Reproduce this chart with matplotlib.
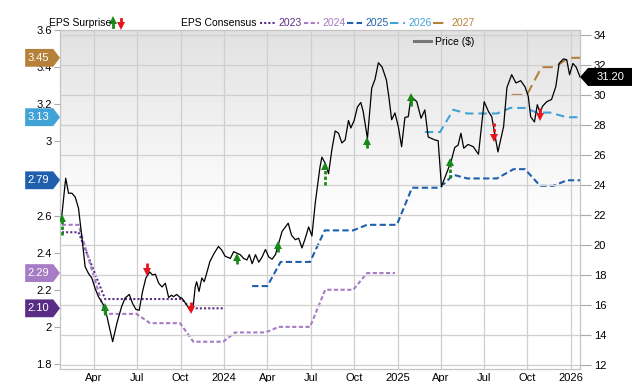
import matplotlib
matplotlib.use("Agg")
import matplotlib.pyplot as plt
import matplotlib.dates as mdates
from matplotlib.patches import Polygon
from matplotlib.lines import Line2D
import numpy as np
import pandas as pd

plt.rcParams['font.family'] = ['Liberation Sans', 'DejaVu Sans']

# ---------------------------------------------------------------------------
# Data
# ---------------------------------------------------------------------------
price_dates = [
    "2023-01-24", "2023-02-01", "2023-02-07", "2023-02-14", "2023-02-21", "2023-02-28",
    "2023-03-07", "2023-03-14", "2023-03-21", "2023-03-28", "2023-04-04", "2023-04-11",
    "2023-04-18", "2023-04-25", "2023-05-02", "2023-05-11", "2023-05-20", "2023-05-30",
    "2023-06-06", "2023-06-15", "2023-06-22", "2023-06-29", "2023-07-06", "2023-07-13",
    "2023-07-20", "2023-07-28", "2023-08-03", "2023-08-09", "2023-08-16", "2023-08-23",
    "2023-08-30", "2023-09-06", "2023-09-12", "2023-09-16", "2023-09-23", "2023-09-30",
    "2023-10-04", "2023-10-14", "2023-10-21", "2023-10-28", "2023-11-01", "2023-11-04",
    "2023-11-09", "2023-11-15", "2023-11-20", "2023-11-25", "2023-12-02", "2023-12-11",
    "2023-12-20", "2023-12-27", "2024-01-03", "2024-01-14", "2024-01-21", "2024-01-28",
    "2024-02-04", "2024-02-11", "2024-02-18", "2024-02-23", "2024-02-29", "2024-03-07",
    "2024-03-14", "2024-03-21", "2024-03-28", "2024-04-04", "2024-04-11", "2024-04-18",
    "2024-04-24", "2024-05-02", "2024-05-15", "2024-05-22", "2024-05-30", "2024-06-06",
    "2024-06-13", "2024-06-20", "2024-06-27", "2024-07-04", "2024-07-11", "2024-07-21",
    "2024-07-25", "2024-08-01", "2024-08-08", "2024-08-15", "2024-08-22", "2024-08-29",
    "2024-09-05", "2024-09-12", "2024-09-19", "2024-09-24", "2024-10-01", "2024-10-08",
    "2024-10-15", "2024-10-20", "2024-10-29", "2024-11-07", "2024-11-14", "2024-11-21",
    "2024-11-29", "2024-12-08", "2024-12-13", "2024-12-19", "2024-12-26", "2025-01-02",
    "2025-01-09", "2025-01-16", "2025-01-23", "2025-01-29", "2025-02-10", "2025-02-19",
    "2025-02-27", "2025-03-06", "2025-03-13", "2025-03-20", "2025-03-27", "2025-04-03",
    "2025-04-14", "2025-04-24", "2025-05-01", "2025-05-08", "2025-05-14", "2025-05-20",
    "2025-05-29", "2025-06-09", "2025-06-20", "2025-07-02", "2025-07-11", "2025-07-18",
    "2025-07-31", "2025-08-12", "2025-08-19", "2025-08-29", "2025-09-07", "2025-09-17",
    "2025-09-26", "2025-10-03", "2025-10-08", "2025-10-16", "2025-10-22", "2025-10-28",
    "2025-11-02", "2025-11-11", "2025-11-21", "2025-11-30", "2025-12-07", "2025-12-16",
    "2025-12-23", "2025-12-29", "2026-01-05", "2026-01-12", "2026-01-20",
]
price_vals = [
    22.0, 24.45, 23.45, 23.45, 23.2, 22.45,
    20.55, 18.55, 18.1, 17.8, 17.1, 16.55,
    16.2, 15.8, 14.8, 13.55, 14.8, 15.9,
    16.45, 16.7, 16.1, 15.7, 15.65, 16.9,
    17.8, 18.2, 18.0, 18.05, 17.45, 17.2,
    17.45, 16.5, 16.65, 16.55, 16.7, 16.5,
    16.45, 16.0, 15.65, 16.0, 17.2, 17.55,
    16.9, 17.8, 17.55, 18.1, 18.9, 19.45,
    19.9, 19.65, 19.25, 19.1, 19.55, 19.45,
    19.35, 19.1, 19.0, 19.35, 18.75, 19.35,
    18.85, 19.2, 19.7, 19.2, 19.05, 19.35,
    20.0, 20.9, 21.45, 20.65, 20.35, 20.45,
    19.8, 20.45, 21.2, 20.6, 22.8, 25.2,
    25.85, 25.45, 24.75, 26.35, 27.6, 27.45,
    26.8, 27.0, 28.3, 27.8, 28.3, 29.2,
    29.5, 28.9, 27.1, 30.45, 31.05, 32.15,
    31.85, 31.0, 29.9, 28.35, 28.8, 27.9,
    26.55, 28.5, 28.55, 29.9, 29.55, 28.45,
    29.0, 27.2, 27.1, 27.0, 26.95, 23.9,
    24.8, 25.65, 26.5, 26.65, 27.45, 26.45,
    26.7, 26.55, 26.05, 29.55, 28.9, 28.55,
    26.2, 27.9, 30.5, 31.35, 30.8, 30.95,
    30.55, 29.9, 28.55, 28.2, 29.35, 28.8,
    29.25, 29.55, 29.7, 30.55, 32.1, 32.4,
    32.35, 31.35, 32.1, 31.85, 31.2,
]

# EPS consensus per fiscal year
eps23_dates = ["2023-01-24", "2023-02-28", "2023-03-28", "2023-04-25", "2023-10-04",
               "2023-10-21", "2023-12-30"]
eps23_vals = [2.51, 2.51, 2.33, 2.15, 2.15, 2.10, 2.10]

eps24_dates = ["2023-01-24", "2023-02-28", "2023-03-28", "2023-04-25", "2023-06-30",
               "2023-07-29", "2023-09-30", "2023-10-28", "2023-12-30", "2024-01-24",
               "2024-03-28", "2024-04-25", "2024-06-30", "2024-08-01", "2024-09-29",
               "2024-10-28", "2024-12-26"]
eps24_vals = [2.55, 2.55, 2.31, 2.07, 2.07, 2.02, 2.02, 1.92, 1.92, 1.97,
              1.97, 2.00, 2.00, 2.20, 2.20, 2.29, 2.29]

eps25_dates = ["2024-02-29", "2024-04-01", "2024-04-29", "2024-06-30", "2024-07-31",
               "2024-09-29", "2024-10-28", "2024-12-30", "2025-01-31", "2025-03-31",
               "2025-04-28", "2025-05-27", "2025-07-29", "2025-09-02", "2025-09-26",
               "2025-10-28", "2025-11-25", "2025-12-23", "2026-01-20"]
eps25_vals = [2.22, 2.22, 2.35, 2.35, 2.52, 2.52, 2.55, 2.55, 2.75, 2.75,
              2.82, 2.80, 2.80, 2.85, 2.85, 2.76, 2.76, 2.79, 2.79]

eps26_dates = ["2025-02-27", "2025-03-31", "2025-04-28", "2025-05-27", "2025-07-29",
               "2025-08-26", "2025-09-26", "2025-10-21", "2025-11-18", "2025-12-23",
               "2026-01-20"]
eps26_vals = [3.05, 3.05, 3.17, 3.15, 3.15, 3.18, 3.18, 3.155, 3.155, 3.13, 3.13]

eps27_dates = ["2025-08-29", "2025-09-30", "2025-10-31", "2025-11-28", "2025-12-27",
               "2026-01-20"]
eps27_vals = [3.25, 3.25, 3.40, 3.40, 3.45, 3.45]

# EPS surprise markers: date, stem start, arrow tip (price-axis level)
surprise_dates = ["2023-01-24", "2023-04-25", "2023-07-23", "2023-10-23", "2024-01-29",
                  "2024-04-23", "2024-07-31", "2024-10-29", "2025-01-28", "2025-04-21",
                  "2025-07-23", "2025-10-28"]
surprise_base = [20.67, 15.33, 18.8, 16.2, 18.73, 19.53, 24.0, 26.47, 29.27, 24.47, 28.15, 29.13]
surprise_tip = [21.8, 15.87, 18.2, 15.67, 19.22, 20.0, 25.27, 26.95, 29.85, 25.55, 27.1, 28.53]

eps_ticks = [1.8, 2.0, 2.2, 2.4, 2.6, 2.8, 3.0, 3.2, 3.4, 3.6]
years = ["2023", "2024", "2025", "2026", "2027"]
year_colors = ["#5b2c86", "#a67cc5", "#1f5fad", "#41a2d6", "#b5813a"]
year_styles = [(0, (1, 1)), (0, (2, 1.2)), (0, (3, 1.6)), (0, (4, 2.4)), (0, (5, 2.6))]

GREEN = "#178a17"
RED = "#e8141c"
GRID = "#cfcfcf"

eps_series = [
    (pd.to_datetime(eps23_dates), eps23_vals),
    (pd.to_datetime(eps24_dates), eps24_vals),
    (pd.to_datetime(eps25_dates), eps25_vals),
    (pd.to_datetime(eps26_dates), eps26_vals),
    (pd.to_datetime(eps27_dates), eps27_vals),
]

# ---------------------------------------------------------------------------
# Figure
# ---------------------------------------------------------------------------
fig = plt.figure(figsize=(6.4, 3.82), dpi=100)
ax = fig.add_axes([60 / 640, 1 - 369 / 382, 520 / 640, 339 / 382])
axp = ax.twinx()

x0, x1 = pd.Timestamp("2023-01-20"), pd.Timestamp("2026-01-20")

# background gradient (grey at top -> white further down)
t = np.clip(np.linspace(0, 1, 256) / 0.55, 0, 1)
bg = np.repeat((0.885 + 0.115 * t)[:, None, None], 3, axis=2)
ax.imshow(bg, extent=[0, 1, 0, 1], origin="upper", transform=ax.transAxes,
          aspect="auto", zorder=0)

# EPS axis (left)
ax.set_ylim(1.773, 3.6)
ax.set_yticks(eps_ticks)
# 2.8 sits under the 2.79 tag in the original, so it gets no label
ax.set_yticklabels(["" if v == 2.8 else "%g" % v for v in eps_ticks])
for (d, v), c, ls in zip(eps_series, year_colors, year_styles):
    ax.plot(d, v, color=c, lw=1.5, linestyle=ls, zorder=3)

# price axis (right)
axp.set_ylim(11.73, 34.33)
axp.set_yticks(range(12, 35, 2))
axp.plot(pd.to_datetime(price_dates), price_vals, color="black", lw=0.9, zorder=4)
axp.grid(axis="y", color=GRID, lw=0.9)

ax.set_xlim(x0, x1)
ax.xaxis.set_major_locator(mdates.MonthLocator(bymonth=[1, 4, 7, 10]))
ax.xaxis.set_major_formatter(
    plt.FuncFormatter(lambda v, p: mdates.num2date(v).strftime("%Y" if mdates.num2date(v).month == 1 else "%b")))
ax.grid(axis="x", color=GRID, lw=0.9)
ax.tick_params(axis="x", length=0, labelsize=8, pad=3)
ax.tick_params(axis="y", length=4, color="#aaaaaa", labelsize=8, pad=2)
axp.tick_params(axis="y", length=8, color="#aaaaaa", labelsize=8, pad=2)
for a in (ax, axp):
    for s in a.spines.values():
        s.set_color("#c4c4c4")

# surprise arrows
for d, b, tip in zip(pd.to_datetime(surprise_dates), surprise_base, surprise_tip):
    col = GREEN if tip > b else RED
    stem_ls = (0, (1.2, 0.8)) if abs(tip - b) > 0.9 else "-"
    axp.plot([d, d], [b, tip], color=col, lw=2.0, linestyle=stem_ls, zorder=5,
             solid_capstyle="butt")
    axp.plot(d, tip, marker="^" if tip > b else "v", color=col, ms=6, mew=0, zorder=6)

# EPS tags on the left (last consensus value of each year)
ytr = ax.get_yaxis_transform()
for (d, v), c in zip(eps_series, year_colors):
    last = v[-1]
    h = 0.048
    poly = Polygon([(-0.067, last - h), (-0.013, last - h), (0.0, last),
                    (-0.013, last + h), (-0.067, last + h)],
                   closed=True, transform=ytr, facecolor=c, edgecolor="none",
                   clip_on=False, zorder=10)
    ax.add_patch(poly)
    ax.text(-0.041, last, "%.2f" % last, transform=ytr, color="white", fontsize=8,
            ha="center", va="center", clip_on=False, zorder=11)

# price tag on the right
ptr = axp.get_yaxis_transform()
last_p = price_vals[-1]
hp = 0.6
axp.add_patch(Polygon([(1.0, last_p), (1.0154, last_p - hp), (1.1, last_p - hp),
                       (1.1, last_p + hp), (1.0154, last_p + hp)],
                      closed=True, transform=ptr, facecolor="black", edgecolor="none",
                      clip_on=False, zorder=10))
axp.text(1.058, last_p, "%.2f" % last_p, transform=ptr, color="white", fontsize=8,
         ha="center", va="center", clip_on=False, zorder=11)

# ---------------------------------------------------------------------------
# Legend row (figure pixels)
# ---------------------------------------------------------------------------
H = 382
FS = 7.5
fig.text(49 / 640, 1 - 23 / H, "EPS Surprise", fontsize=FS, va="center", ha="left")
fig.add_artist(Line2D([113 / 640, 113 / 640], [1 - 27 / H, 1 - 21 / H], color=GREEN, lw=2,
                      transform=fig.transFigure))
fig.add_artist(Line2D([113 / 640], [1 - 20 / H], marker="^", color=GREEN, ms=5.5, mew=0,
                      transform=fig.transFigure))
fig.add_artist(Line2D([121 / 640, 121 / 640], [1 - 19 / H, 1 - 24 / H], color=RED, lw=2,
                      transform=fig.transFigure))
fig.add_artist(Line2D([121 / 640], [1 - 26 / H], marker="v", color=RED, ms=5.5, mew=0,
                      transform=fig.transFigure))
fig.text(181 / 640, 1 - 23 / H, "EPS Consensus", fontsize=FS, va="center", ha="left")

xpos = [260, 304, 347, 390, 433]
for xp, yr, c, ls in zip(xpos, years, year_colors, year_styles):
    fig.add_artist(Line2D([xp / 640, (xp + 15) / 640], [1 - 23 / H, 1 - 23 / H], color=c,
                          lw=1.5, linestyle=ls, transform=fig.transFigure))
    fig.text((xp + 18) / 640, 1 - 23 / H, yr, color=c, fontsize=FS, va="center", ha="left")

fig.add_artist(Line2D([414 / 640, 431 / 640], [1 - 41 / H, 1 - 41 / H], color="#777777",
                      lw=2.2, transform=fig.transFigure))
fig.text(435 / 640, 1 - 42 / H, "Price ($)", fontsize=FS, va="center", ha="left")

fig.savefig("out.png", dpi=100)
